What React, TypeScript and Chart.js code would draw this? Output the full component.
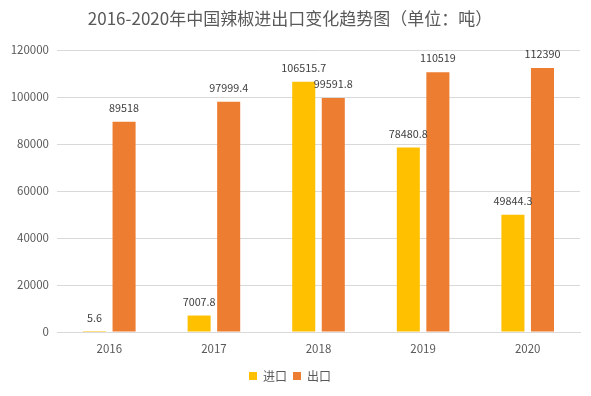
import React, { useEffect, useRef } from "react";
import { Chart, registerables } from "chart.js";

Chart.register(...registerables);

const categories = ["2016", "2017", "2018", "2019", "2020"];
const importValues = [5.6, 7007.8, 106515.7, 78480.8, 49844.3];
const exportValues = [89518, 97999.4, 99591.8, 110519, 112390];
const seriesNames = ["进口", "出口"];
const titleText = "2016-2020年中国辣椒进出口变化趋势图（单位：吨）";

const FONT = "'Noto Sans CJK SC', 'Noto Sans', sans-serif";

const dataLabels = {
  id: "dataLabels",
  afterDatasetsDraw(chart: any) {
    const ctx = chart.ctx;
    ctx.save();
    ctx.font = `10.8px ${FONT}`;
    ctx.fillStyle = "#404040";
    ctx.textAlign = "center";
    ctx.textBaseline = "middle";
    chart.data.datasets.forEach((ds: any, i: number) => {
      const meta = chart.getDatasetMeta(i);
      meta.data.forEach((bar: any, j: number) => {
        ctx.fillText(String(ds.data[j]), bar.x, bar.y - 14);
      });
    });
    ctx.restore();
  },
};

export default function App() {
  const ref = useRef<HTMLCanvasElement>(null);
  useEffect(() => {
    if (!ref.current) return;
    const chart = new Chart(ref.current, {
      type: "bar",
      data: {
        labels: categories,
        datasets: [
          {
            label: seriesNames[0],
            data: importValues,
            backgroundColor: "#FFC000",
            categoryPercentage: 0.565,
            barPercentage: 0.78,
          },
          {
            label: seriesNames[1],
            data: exportValues,
            backgroundColor: "#ED7D31",
            categoryPercentage: 0.565,
            barPercentage: 0.78,
          },
        ],
      },
      options: {
        responsive: false,
        animation: false,
        layout: { padding: { left: 0, right: 11, top: 0, bottom: 4 } },
        plugins: {
          title: {
            display: true,
            text: titleText,
            color: "#595959",
            font: { family: FONT, size: 17, weight: "normal" },
            padding: { top: 8, bottom: 21.6 },
          },
          legend: {
            position: "bottom",
            labels: {
              boxWidth: 8,
              boxHeight: 8,
              padding: 6,
              color: "#595959",
              font: { family: FONT, size: 12 },
            },
          },
          tooltip: { enabled: false },
        },
        scales: {
          x: {
            grid: { display: false, drawTicks: false },
            border: { display: true, color: "#D9D9D9" },
            ticks: { color: "#595959", font: { family: FONT, size: 11.5 }, padding: 10 },
            afterFit(scale: any) {
              scale.height = 32;
            },
          },
          y: {
            min: 0,
            max: 120000,
            grid: { color: "#D9D9D9", drawTicks: false },
            border: { display: false },
            ticks: {
              stepSize: 20000,
              color: "#595959",
              font: { family: FONT, size: 11.5 },
              padding: 8,
              callback: (v: any) => String(v),
            },
            afterFit(scale: any) {
              scale.width = 57;
            },
          },
        },
      },
      plugins: [dataLabels],
    });
    return () => chart.destroy();
  }, []);
  return (
    <div style={{ position: "absolute", left: 0, top: 0, width: 591, height: 396, background: "#fff" }}>
      <canvas ref={ref} width={591} height={396} />
    </div>
  );
}
